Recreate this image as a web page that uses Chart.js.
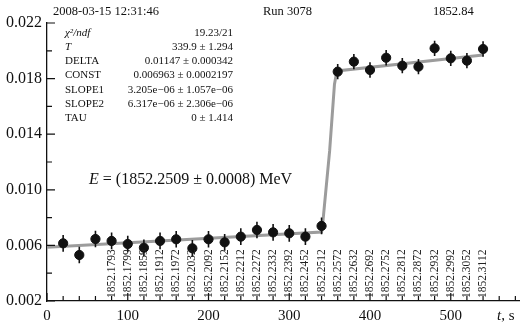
<!DOCTYPE html>
<html>
<head>
<meta charset="utf-8">
<script src="https://cdn.jsdelivr.net/npm/chart.js@4.4.1/dist/chart.umd.min.js"></script>
<style>
  html, body { margin: 0; padding: 0; background: #fff; }
  #wrap { width: 525px; height: 326px; }
</style>
</head>
<body>
<div id="wrap"><canvas id="grafico" width="525" height="326"></canvas></div>
<script>
// Medições: taxa de contagem por intervalo de 20 s
const tempos = [20, 40, 60, 80, 100, 120, 140, 160, 180, 200, 220, 240, 260, 280,
                300, 320, 340, 360, 380, 400, 420, 440, 460, 480, 500, 520, 540];
const taxas = [0.00615, 0.00531, 0.00646, 0.00632, 0.00610, 0.00583, 0.00632, 0.00644,
               0.00579, 0.00644, 0.00622, 0.00663, 0.00711, 0.00694, 0.00687, 0.00663,
               0.00740, 0.01850, 0.01922, 0.01862, 0.01950, 0.01893, 0.01886, 0.02018,
               0.01946, 0.01929, 0.02013];
const erros = [0.0006, 0.0006, 0.0006, 0.0006, 0.0006, 0.0006, 0.0006, 0.0006, 0.0006,
               0.0006, 0.0006, 0.0006, 0.0006, 0.0006, 0.0006, 0.0006, 0.0006, 0.00055,
               0.00055, 0.00055, 0.00055, 0.00055, 0.00055, 0.00055, 0.00055, 0.00055, 0.00055];

// Curva ajustada (degrau com inclinações)
const ajusteT = [0, 340, 341.5, 350, 356, 359, 540];
const ajusteTaxa = [0.00587, 0.00696, 0.0076, 0.0128, 0.0176, 0.01855, 0.0197];

// Energia do feixe em cada ponto
const energiaT = [80, 100, 120, 140, 160, 180, 200, 220, 240, 260, 280, 300, 320,
                  340, 360, 380, 400, 420, 440, 460, 480, 500, 520, 540];
const energias = ['1852.1793', '1852.1799', '1852.1859', '1852.1912', '1852.1972',
                  '1852.2032', '1852.2092', '1852.2152', '1852.2212', '1852.2272',
                  '1852.2332', '1852.2392', '1852.2452', '1852.2512', '1852.2572',
                  '1852.2632', '1852.2692', '1852.2752', '1852.2812', '1852.2872',
                  '1852.2932', '1852.2992', '1852.3052', '1852.3112'];

// Tabela de parâmetros do ajuste
const parNomes = ['χ²/ndf', 'T', 'DELTA', 'CONST', 'SLOPE1', 'SLOPE2', 'TAU'];
const parValores = ['19.23/21', '339.9 ± 1.294', '0.01147 ± 0.000342',
                    '0.006963 ± 0.0002197', '3.205e−06 ± 1.057e−06',
                    '6.317e−06 ± 2.306e−06', '0 ± 1.414'];

const SERIF = '"Liberation Serif", "DejaVu Serif", serif';

const pontos = tempos.map((t, i) => ({ x: t, y: taxas[i] }));
const curva = ajusteT.map((t, i) => ({ x: t, y: ajusteTaxa[i] }));

const decoracao = {
    id: 'decoracao',
    afterDatasetsDraw(chart) {
        const { ctx, scales: { x, y } } = chart;
        // barras de erro
        ctx.save();
        ctx.strokeStyle = '#111';
        ctx.lineWidth = 1.6;
        ctx.beginPath();
        tempos.forEach((t, i) => {
            const px = x.getPixelForValue(t);
            ctx.moveTo(px, y.getPixelForValue(taxas[i] - erros[i]));
            ctx.lineTo(px, y.getPixelForValue(taxas[i] + erros[i]));
        });
        ctx.stroke();
        ctx.restore();
    },
    afterDraw(chart) {
        const { ctx, chartArea: a, scales: { x, y } } = chart;
        ctx.save();

        // marcas dos eixos para dentro
        ctx.strokeStyle = '#111';
        ctx.lineWidth = 1.2;
        ctx.beginPath();
        x.ticks.forEach(t => {
            if (t.value % 20 !== 0) return;
            const px = x.getPixelForValue(t.value);
            const len = t.value % 100 === 0 ? 8 : 5;
            ctx.moveTo(px, a.bottom);
            ctx.lineTo(px, a.bottom - len);
        });
        y.ticks.forEach((t, i) => {
            const py = y.getPixelForValue(t.value);
            const len = i % 2 === 0 ? 8 : 5;
            ctx.moveTo(a.left, py);
            ctx.lineTo(a.left + len, py);
        });
        ctx.stroke();

        // energias na vertical
        ctx.fillStyle = '#222';
        ctx.font = '11.5px ' + SERIF;
        ctx.textAlign = 'left';
        ctx.textBaseline = 'middle';
        energiaT.forEach((t, i) => {
            ctx.save();
            ctx.translate(x.getPixelForValue(t), a.bottom - 3);
            ctx.rotate(-Math.PI / 2);
            ctx.fillText(energias[i], 0, 0);
            ctx.restore();
        });

        // cabeçalho
        ctx.fillStyle = '#111';
        ctx.font = '12.5px ' + SERIF;
        ctx.textBaseline = 'middle';
        ctx.fillText('2008-03-15 12:31:46', 53, 12);
        ctx.fillText('Run 3078', 263, 12);
        ctx.fillText('1852.84', 433, 12);

        // parâmetros do ajuste
        parNomes.forEach((nome, i) => {
            const py = 33 + i * 14.2;
            ctx.font = (i < 2 ? 'italic ' : '') + '11px ' + SERIF;
            ctx.textAlign = 'left';
            ctx.fillText(nome, 65, py);
            ctx.font = '11px ' + SERIF;
            ctx.textAlign = 'right';
            ctx.fillText(parValores[i], 233, py);
        });

        // resultado da energia
        ctx.textAlign = 'left';
        ctx.font = 'italic 16px ' + SERIF;
        ctx.fillText('E', 89, 180);
        let w = ctx.measureText('E').width;
        ctx.font = '16px ' + SERIF;
        ctx.fillText(' = (1852.2509 ± 0.0008) MeV', 89 + w, 180);

        // rótulo do eixo x
        ctx.font = 'italic 15px ' + SERIF;
        ctx.fillText('t', 497, 316);
        w = ctx.measureText('t').width;
        ctx.font = '15px ' + SERIF;
        ctx.fillText(', s', 497 + w, 316);

        ctx.restore();
    }
};

const ctx = document.getElementById('grafico').getContext('2d');
new Chart(ctx, {
    type: 'scatter',
    data: {
        datasets: [{
            label: 'Taxa',
            data: pontos,
            backgroundColor: '#111',
            borderColor: '#111',
            pointRadius: 4.6,
            pointHoverRadius: 4.6,
            order: 0
        }, {
            label: 'Ajuste',
            data: curva,
            showLine: true,
            borderColor: '#9c9c9c',
            borderWidth: 3,
            pointRadius: 0,
            tension: 0,
            order: 1
        }]
    },
    options: {
        responsive: false,
        animation: false,
        layout: { padding: { top: 23, right: 1, left: 0, bottom: 0 } },
        plugins: { legend: { display: false }, tooltip: { enabled: false } },
        scales: {
            x: {
                type: 'linear',
                min: 0,
                max: 585,
                afterFit: (s) => { s.height = 25; },
                grid: { display: false, drawTicks: false },
                border: { display: true, color: '#111', width: 1.3 },
                ticks: {
                    stepSize: 20,
                    autoSkip: false,
                    maxRotation: 0,
                    includeBounds: false,
                    padding: 6,
                    color: '#111',
                    font: { family: SERIF, size: 15 },
                    callback: (v) => (v % 100 === 0 ? String(v) : '')
                }
            },
            y: {
                min: 0.002,
                max: 0.022,
                afterFit: (s) => { s.width = 47; },
                grid: { display: false, drawTicks: false },
                border: { display: true, color: '#111', width: 1.3 },
                ticks: {
                    stepSize: 0.002,
                    autoSkip: false,
                    padding: 5,
                    color: '#111',
                    font: { family: SERIF, size: 16 },
                    callback: (v, i) => (i % 2 === 0 ? v.toFixed(3) : '')
                }
            }
        }
    },
    plugins: [decoracao]
});
</script>
</body>
</html>
